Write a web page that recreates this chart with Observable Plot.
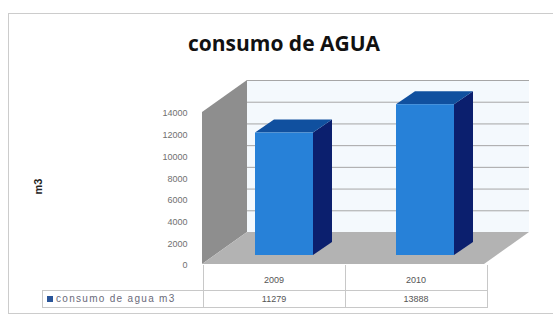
<!DOCTYPE html>
<html><head><meta charset="utf-8">
<script src="https://cdn.jsdelivr.net/npm/d3@7"></script>
<script src="https://cdn.jsdelivr.net/npm/@observablehq/plot@0.6"></script>
<style>
body{margin:0;background:#fff;}
#wrap{position:relative;width:553px;height:318px;overflow:hidden;background:#fff;font-family:"Open Sans",sans-serif;}
#frame{position:absolute;left:8px;top:13px;width:560px;height:301px;border:1.5px solid #cccccc;box-sizing:border-box;}
#title{position:absolute;left:0;width:568px;top:29px;text-align:center;font-weight:bold;font-size:21px;color:#111;letter-spacing:0px;}
#chart{position:absolute;left:0;top:0;}
#tbl{position:absolute;border-collapse:collapse;font-family:"Liberation Sans",Arial,sans-serif;font-size:9px;color:#555;}
#tbl td{padding:0;text-align:center;}
</style>
</head><body>
<div id="wrap">
  <div id="frame"></div>
  <div id="title"></div>
  <div id="chart"></div>
</div>
<script>
// ---- data ----
const chartTitle = "consumo de AGUA";
const yTitle = "m3";
const seriesName = "consumo de agua m3";
const years = ["2009", "2010"];
const consumo = [11279, 13888];
const yTicks = [0, 2000, 4000, 6000, 8000, 10000, 12000, 14000];

// ---- geometry (oblique 3D look) ----
const W = 553, H = 318;
const mL = 202, mR = 69, mT = 112, mB = 54;
const xDomain = [-0.5, years.length - 0.5];
const yDomain = [0, d3.max(yTicks)];
const pxX = (xDomain[1] - xDomain[0]) / (W - mL - mR);
const pxY = (yDomain[1] - yDomain[0]) / (H - mT - mB);
const DX = 45 * pxX, DY = 32 * pxY;        // depth of the box
const BOX = 11.5 * pxX, BOY = 9 * pxY;     // bar front plane offset
const BDX = 19 * pxX, BDY = 13 * pxY;      // bar depth
const HW = 29 * pxX;                       // bar half width

const bars = years.map((yr, i) => ({yr, i, v: consumo[i]}));
const sideData = bars.flatMap(b => [
  {yr: b.yr, x: b.i + BOX + HW, y1: BOY, y2: b.v + BOY},
  {yr: b.yr, x: b.i + BOX + HW + BDX, y1: BOY + BDY, y2: b.v + BOY + BDY}
]);
const topData = bars.flatMap(b => [
  {yr: b.yr, y: b.v + BOY, x1: b.i + BOX - HW, x2: b.i + BOX + HW},
  {yr: b.yr, y: b.v + BOY + BDY, x1: b.i + BOX - HW + BDX, x2: b.i + BOX + HW + BDX}
]);
const wallData = [
  {x: xDomain[0], y1: yDomain[0], y2: yDomain[1]},
  {x: xDomain[0] + DX, y1: yDomain[0] + DY, y2: yDomain[1] + DY}
];
const floorData = [
  {y: yDomain[0], x1: xDomain[0], x2: xDomain[1]},
  {y: yDomain[0] + DY, x1: xDomain[0] + DX, x2: xDomain[1] + DX}
];

const plot = Plot.plot({
  width: W, height: H,
  marginLeft: mL, marginRight: mR, marginTop: mT, marginBottom: mB,
  x: {type: "linear", domain: xDomain, axis: null},
  y: {type: "linear", domain: yDomain, axis: null},
  style: {background: "transparent", fontFamily: "'Liberation Sans', Arial, sans-serif", overflow: "visible"},
  marks: [
    // back wall
    Plot.rect([yDomain], {x1: () => xDomain[0] + DX, x2: () => xDomain[1] + DX, y1: d => d[0] + DY, y2: d => d[1] + DY, fill: "#f4f9fd"}),
    Plot.ruleY(yTicks.slice(1), {y: d => d + DY, x1: () => xDomain[0] + DX, x2: () => xDomain[1] + DX, stroke: "#a6a6a6", strokeWidth: 1}),
    // left wall
    Plot.areaY(wallData, {x: "x", y1: "y1", y2: "y2", fill: "#8e8e8e"}),
    // floor
    Plot.areaX(floorData, {y: "y", x1: "x1", x2: "x2", fill: "#b3b3b3"}),
    // bars: side, top, front
    Plot.areaY(sideData, {x: "x", y1: "y1", y2: "y2", z: "yr", fill: "#0b1f6e"}),
    Plot.areaX(topData, {y: "y", x1: "x1", x2: "x2", z: "yr", fill: "#10509f"}),
    Plot.rect(bars, {x1: b => b.i + BOX - HW, x2: b => b.i + BOX + HW, y1: () => BOY, y2: b => b.v + BOY, fill: "#2781d8"}),
    // y tick labels
    Plot.text(yTicks, {x: () => xDomain[0], y: d => d, text: d => String(d), textAnchor: "end", dx: -15, dy: 1, fontSize: 9, fill: "#707070"}),
    // y title
    Plot.text([yTitle], {frameAnchor: "left", dx: -164, dy: 6, rotate: -90, text: d => d, fontSize: 11, fontWeight: "bold", fill: "#222"})
  ]
});
document.getElementById("chart").appendChild(plot);
document.getElementById("title").textContent = chartTitle;

// ---- data table under the chart ----
const sx = plot.scale("x");
const edges = d3.range(years.length + 1).map(k => sx.apply(xDomain[0] + k));
const legendLeft = 42;
const tbl = document.createElement("table");
tbl.id = "tbl";
tbl.style.left = legendLeft + "px";
tbl.style.top = (H - mB + 1) + "px";
const r1 = tbl.insertRow();
const c0 = r1.insertCell();
c0.style.width = (edges[0] - legendLeft) + "px";
c0.style.height = "25px";
years.forEach((yr, k) => {
  const c = r1.insertCell();
  c.textContent = yr;
  c.style.width = (edges[k + 1] - edges[k]) + "px";
  c.style.borderLeft = "1px solid #c8c8c8";
  c.style.borderRight = "1px solid #c8c8c8";
  c.style.paddingTop = "4px";
});
const r2 = tbl.insertRow();
const lc = r2.insertCell();
lc.style.border = "1px solid #c8c8c8";
lc.style.textAlign = "left";
lc.style.height = "16px";
lc.style.whiteSpace = "nowrap";
lc.innerHTML = '<span style="display:inline-block;width:6px;height:6px;background:#2a5599;margin:0 3px 0 4px;vertical-align:middle"></span><span style="font-size:10px;color:#6a6a7a;letter-spacing:1.3px;vertical-align:middle"></span>';
lc.lastChild.textContent = seriesName;
consumo.forEach(v => {
  const c = r2.insertCell();
  c.textContent = String(v);
  c.style.border = "1px solid #c8c8c8";
});
document.getElementById("wrap").appendChild(tbl);
</script>
</body></html>
